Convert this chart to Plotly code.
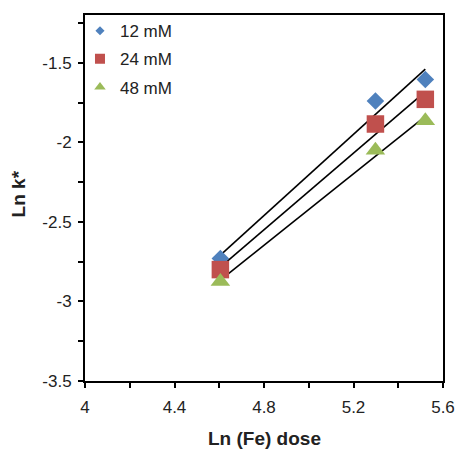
import numpy as np
import plotly.graph_objects as go

# Ln of Fe dose (100, 200, 250)
ln_dose = [4.605, 5.298, 5.521]

series_names = ["12 mM", "24 mM", "48 mM"]
ln_k_12 = [-2.73, -1.74, -1.605]
ln_k_24 = [-2.80, -1.885, -1.73]
ln_k_48 = [-2.875, -2.05, -1.865]

x_ticks = [4, 4.4, 4.8, 5.2, 5.6]
y_ticks = [-3.5, -3, -2.5, -2, -1.5]

x_title = "Ln (Fe) dose"
y_title = "Ln k*"

colors = ["#4F81BD", "#C0504D", "#9BBB59"]
symbols = ["diamond", "square", "triangle-up"]
sizes = [13.5, 17.5, 17]
legend_sizes = [7, 10, 10]

font_family = "Arial, Liberation Sans, Helvetica, sans-serif"
text_color = "#222222"

fig = go.Figure()

all_series = [ln_k_12, ln_k_24, ln_k_48]

# linear trend lines over the measured dose range
for ys in all_series:
    slope, intercept = np.polyfit(ln_dose, ys, 1)
    xs = np.array([min(ln_dose), max(ln_dose)])
    fig.add_trace(go.Scatter(x=xs, y=slope * xs + intercept, mode="lines",
                             line=dict(color="black", width=1.6),
                             showlegend=False, hoverinfo="skip"))

for name, ys, c, s, sz in zip(series_names, all_series, colors, symbols, sizes):
    fig.add_trace(go.Scatter(x=ln_dose, y=ys, mode="markers", name=name,
                             marker=dict(color=c, symbol=s, size=sz, line=dict(width=0)),
                             showlegend=False))

# legend entries with smaller symbols
for i, (name, c, s, sz) in enumerate(zip(series_names, colors, symbols, legend_sizes)):
    fig.add_trace(go.Scatter(x=[None], y=[None], mode="markers", name=name,
                             legendgroup=f"g{i}",
                             marker=dict(color=c, symbol=s, size=sz, line=dict(width=0))))

axis_common = dict(
    showgrid=False, zeroline=False, showline=True, linecolor="black", linewidth=2,
    mirror=True, ticks="outside", ticklen=5, tickwidth=1.5, tickcolor="black",
    tickfont=dict(family=font_family, size=17, color=text_color),
    automargin=False,
)

fig.update_xaxes(range=[4, 5.6], tickvals=x_ticks, ticktext=[f"{v:g}" for v in x_ticks],
                 minor=dict(dtick=0.2, tick0=4, ticks="outside", ticklen=5, tickcolor="black", tickwidth=1.5),
                 ticklabelstandoff=5,
                 **axis_common)
fig.update_yaxes(range=[-3.5, -1.2], tickvals=y_ticks, ticktext=[f"{v:g}" for v in y_ticks],
                 minor=dict(dtick=0.25, tick0=-3.5, ticks="outside", ticklen=5, tickcolor="black", tickwidth=1.5),
                 ticklabelstandoff=3,
                 **axis_common)

title_font = dict(family=font_family, size=19, color=text_color)
fig.add_annotation(text=f"<b>{x_title}</b>", xref="paper", yref="paper", x=0.5, y=-0.156,
                   xanchor="center", yanchor="middle", showarrow=False, font=title_font)
fig.add_annotation(text=f"<b>{y_title}</b>", xref="paper", yref="paper", x=-0.187, y=0.51,
                   xanchor="center", yanchor="middle", textangle=-90, showarrow=False, font=title_font)

fig.update_layout(
    width=457, height=449,
    margin=dict(l=85, r=14, t=15, b=68),
    plot_bgcolor="white", paper_bgcolor="white",
    legend=dict(x=-0.014, y=1.005, xanchor="left", yanchor="top",
                font=dict(family=font_family, size=17, color=text_color),
                bgcolor="rgba(0,0,0,0)", tracegroupgap=3, itemwidth=30),
)

fig.write_html("out.html")
